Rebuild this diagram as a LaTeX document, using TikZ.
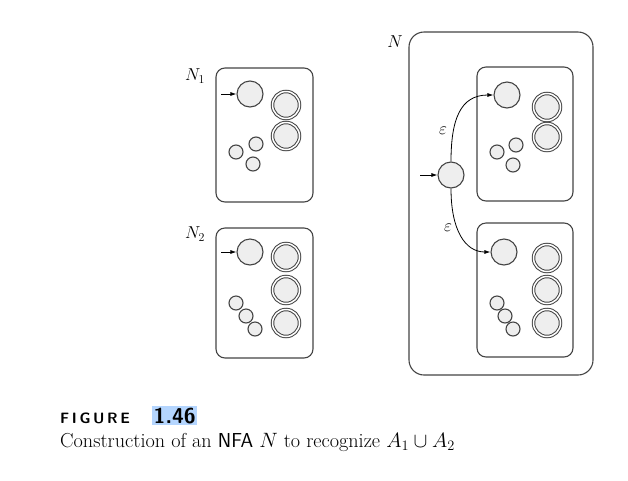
\documentclass[tikz,border=0pt]{standalone}
\usetikzlibrary{arrows.meta}
\definecolor{stfill}{HTML}{EEEEEE}
\definecolor{stline}{HTML}{444444}
\definecolor{hl}{HTML}{B4D5FE}
\begin{document}
\begin{tikzpicture}[x=1pt,y=-1pt,
  st/.style={circle,draw=stline,fill=stfill,line width=1.1pt,inner sep=0pt,minimum size=#1},
  st/.default=26pt,
  acc/.style={circle,draw=stline,fill=stfill,line width=1pt,inner sep=0pt,minimum size=27pt,double=white,double distance=1.5pt},
  sm/.style={circle,draw=stline,fill=stfill,line width=1.1pt,inner sep=0pt,minimum size=14pt},
  box/.style={draw=stline,line width=1.1pt,rounded corners=9pt},
  arr/.style={-{Latex[length=6pt,width=4pt]},line width=0.8pt,draw=black},
  lbl/.style={inner sep=0pt,font=\fontsize{17}{20}\selectfont}]
\useasboundingbox (0,0) rectangle (628,480);
% N1
\draw[box] (216,68) rectangle (313,202);
\node[lbl] (l1) at (195,76) {$N_1$};
\node[st] (a0) at (250,94) {};
\node[acc] (a1) at (286,105) {};
\node[acc] (a2) at (286,136) {};
\node[sm] (a3) at (236,152) {};
\node[sm] (a4) at (256,144) {};
\node[sm] (a5) at (253,164) {};
\coordinate (ai) at (221,94);
\draw[arr] (ai) -- (a0);
% N2
\draw[box] (216,228) rectangle (313,358);
\node[lbl] (l2) at (195,234) {$N_2$};
\node[st] (b0) at (250,252) {};
\node[acc] (b1) at (286,257) {};
\node[acc] (b2) at (286,290) {};
\node[acc] (b3) at (286,323) {};
\node[sm] (b4) at (236,303) {};
\node[sm] (b5) at (246,316) {};
\node[sm] (b6) at (255,329) {};
\coordinate (bi) at (221,252);
\draw[arr] (bi) -- (b0);
% N
\draw[box,rounded corners=15pt] (409,32) rectangle (593,375);
\node[lbl] (l3) at (395,42) {$N$};
\draw[box] (477,67) rectangle (573,201);
\node[st] (c0) at (507,95) {};
\node[acc] (c1) at (547,107) {};
\node[acc] (c2) at (547,137) {};
\node[sm] (c3) at (497,152) {};
\node[sm] (c4) at (516,145) {};
\node[sm] (c5) at (513,165) {};
\draw[box] (477,223) rectangle (573,357);
\node[st] (d0) at (504,252) {};
\node[acc] (d1) at (547,258) {};
\node[acc] (d2) at (547,290) {};
\node[acc] (d3) at (547,323) {};
\node[sm] (d4) at (497,303) {};
\node[sm] (d5) at (505,316) {};
\node[sm] (d6) at (513,329) {};
\node[st] (s) at (451,175) {};
\coordinate (si) at (420,175);
\draw[arr] (si) -- (s);
\draw[arr] (s.north) .. controls (451,120) and (460,95) .. (c0.west);
\draw[arr] (s.south) .. controls (451,230) and (465,252) .. (d0.west);
\node[lbl,font=\fontsize{16}{18}\selectfont] (e1) at (443,131) {$\varepsilon$};
\node[lbl,font=\fontsize{16}{18}\selectfont] (e2) at (448,228) {$\varepsilon$};
% caption
\node[anchor=base west,inner sep=0pt,font=\sffamily\bfseries\fontsize{15}{17}\selectfont] (f1) at (60,423) {F\kern2.6pt I\kern2.6pt G\kern2.6pt U\kern2.6pt R\kern2.6pt E};
\node[anchor=base west,inner sep=1.5pt,fill=hl,font=\sffamily\bfseries\fontsize{21.5}{24}\selectfont] (f2) at (152,423) {1.46};
\node[anchor=base west,inner sep=0pt,font=\fontsize{20.2}{23}\selectfont] (f3) at (60,447) {Construction of an {\sffamily NFA} $N$ to recognize $A_1\cup A_2$};
\end{tikzpicture}
\end{document}
